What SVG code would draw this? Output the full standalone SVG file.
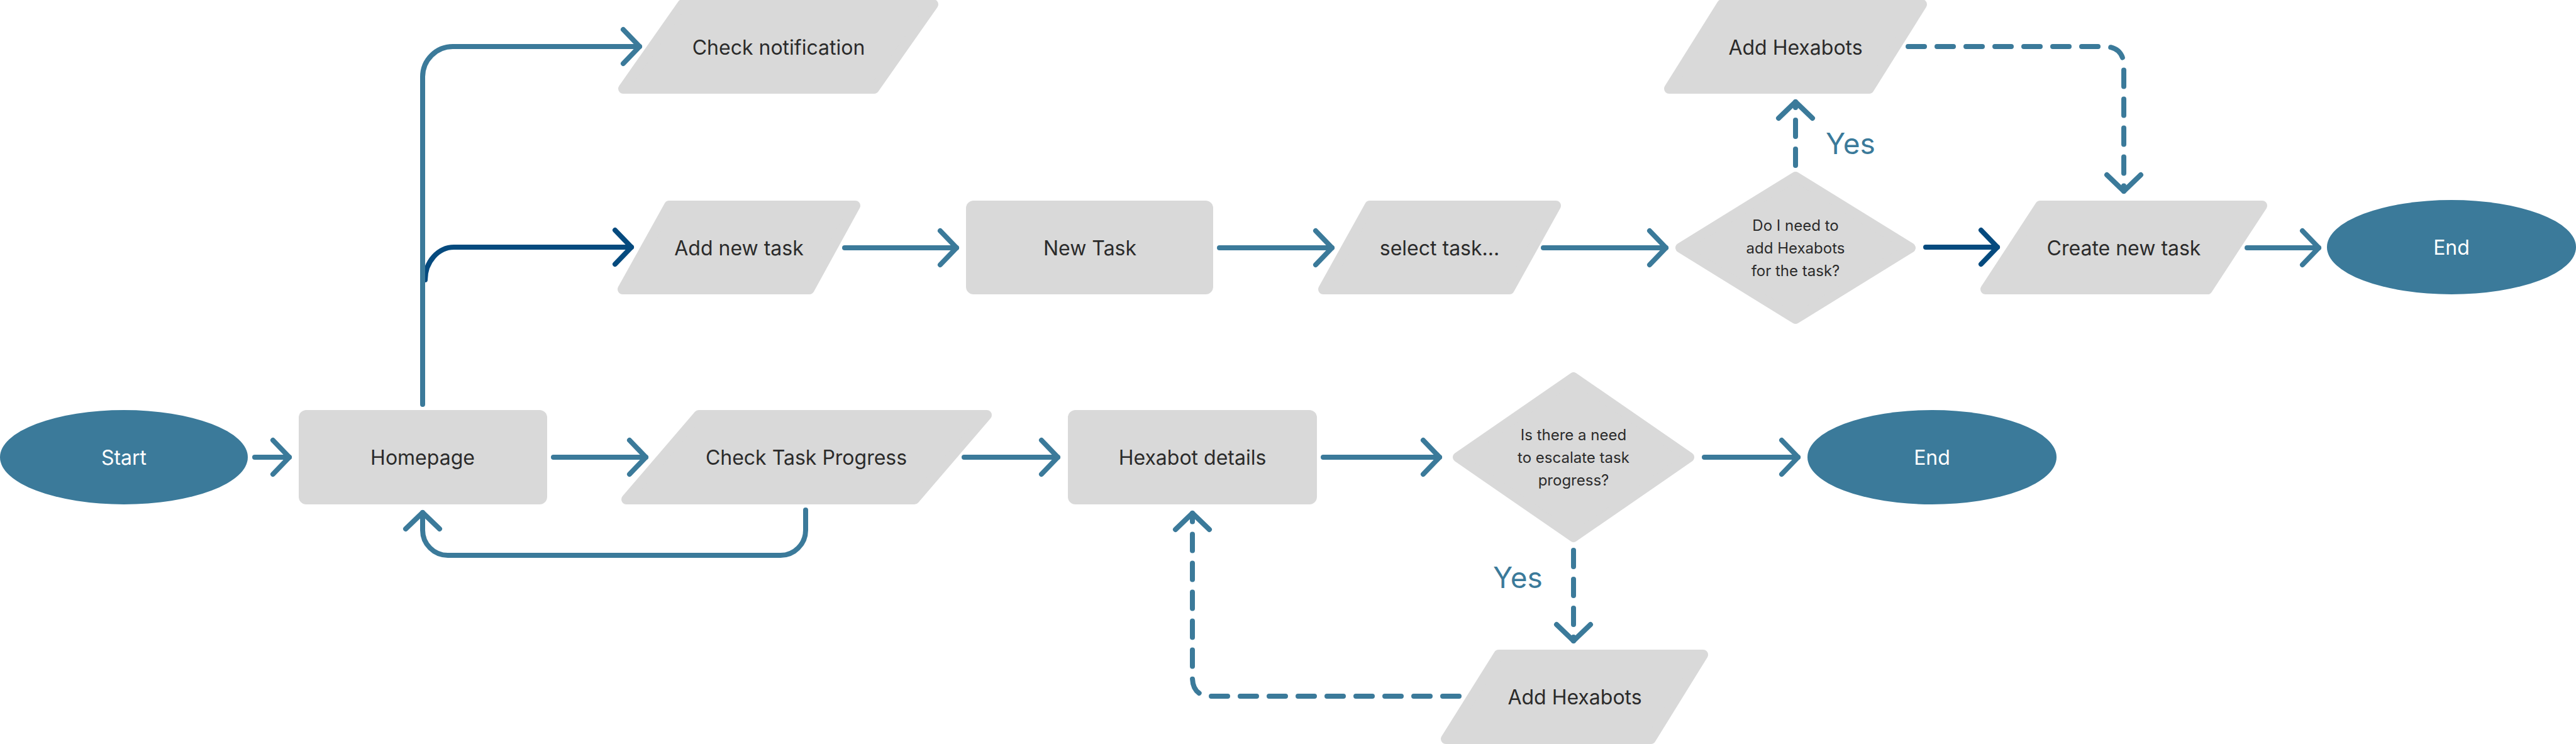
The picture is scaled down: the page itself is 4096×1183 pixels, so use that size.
<svg xmlns="http://www.w3.org/2000/svg" width="4096" height="1183" viewBox="0 0 4096 1183">
<style>
.bg{fill:#ffffff}
.r{fill:#d9d9d9}
.p{fill:#d9d9d9;stroke:#d9d9d9;stroke-width:16;stroke-linejoin:round}
.e{fill:#3b7a9a}
.t{font-family:Inter,"Liberation Sans",sans-serif;font-size:32px;fill:#2b2b2b;text-anchor:middle;dominant-baseline:central}
.tw{font-family:Inter,"Liberation Sans",sans-serif;font-size:32px;fill:#ffffff;text-anchor:middle;dominant-baseline:central}
.ts{font-family:Inter,"Liberation Sans",sans-serif;font-size:24px;fill:#2b2b2b;text-anchor:middle;dominant-baseline:central}
.yes{font-family:Inter,"Liberation Sans",sans-serif;font-size:46px;fill:#3b7a9a}
.c{fill:none;stroke:#3b7a9a;stroke-width:8;stroke-linecap:round;stroke-linejoin:round}
.d{fill:none;stroke:#054a7e;stroke-width:8;stroke-linecap:round;stroke-linejoin:round}
.dash{stroke-dasharray:26 20}
</style>
<defs>
<marker id="ab" markerUnits="userSpaceOnUse" orient="auto" overflow="visible" markerWidth="1" markerHeight="1" refX="0" refY="0">
<path d="M -26 -27 L 0 0 L -26 27" fill="none" stroke="#3b7a9a" stroke-width="8" stroke-linecap="round" stroke-linejoin="round"/>
</marker>
<marker id="ad" markerUnits="userSpaceOnUse" orient="auto" overflow="visible" markerWidth="1" markerHeight="1" refX="0" refY="0">
<path d="M -26 -27 L 0 0 L -26 27" fill="none" stroke="#054a7e" stroke-width="8" stroke-linecap="round" stroke-linejoin="round"/>
</marker>
</defs>
<rect class="bg" x="0" y="0" width="4096" height="1183"/>

<g id="connectors">
<path class="d" d="M 676 445 A 46 52 0 0 1 722 393 L 1004 393" marker-end="url(#ad)"/>
<path class="c" d="M 672 643 L 672 122 A 48 48 0 0 1 720 74 L 1017 74" marker-end="url(#ab)"/>
<path class="c" d="M 405 727 L 460 727" marker-end="url(#ab)"/>
<path class="c" d="M 880 727 L 1027 727" marker-end="url(#ab)"/>
<path class="c" d="M 1281 811 L 1281 843 A 40 40 0 0 1 1241 883 L 712 883 A 40 40 0 0 1 672 843 L 672 815" marker-end="url(#ab)"/>
<path class="c" d="M 1533 727 L 1682 727" marker-end="url(#ab)"/>
<path class="c" d="M 2104 727 L 2289 727" marker-end="url(#ab)"/>
<path class="c" d="M 2710 727 L 2859 727" marker-end="url(#ab)"/>
<path class="c" d="M 1343 394 L 1521 394" marker-end="url(#ab)"/>
<path class="c" d="M 1939 394 L 2118 394" marker-end="url(#ab)"/>
<path class="c" d="M 2454 394 L 2649 394" marker-end="url(#ab)"/>
<path class="d" d="M 3062 393 L 3176 393" marker-end="url(#ad)"/>
<path class="c" d="M 3573 394 L 3687 394" marker-end="url(#ab)"/>
<path class="c dash" d="M 2855 263 L 2855 162" marker-end="url(#ab)"/>
<path class="c dash" d="M 3034 74 L 3345 74 Q 3377 74 3377 106 L 3377 304" marker-end="url(#ab)"/>
<path class="c dash" d="M 2502 875 L 2502 1019" marker-end="url(#ab)"/>
<path class="c dash" d="M 2320 1107 L 1926 1107 Q 1896 1107 1896 1077 L 1896 816" marker-end="url(#ab)"/>
<text class="yes" x="2903" y="245">Yes</text>
<text class="yes" x="2374" y="935">Yes</text>
</g>

<g id="start">
<ellipse class="e" cx="197" cy="727" rx="197" ry="75"/>
<text class="tw" x="197" y="727">Start</text>
</g>
<g id="homepage">
<rect class="r" x="475" y="652" width="395" height="150" rx="12"/>
<text class="t" x="672" y="727">Homepage</text>
</g>
<g id="check-notification">
<polygon class="p" points="1085,7 1484,7 1390,141 991,141"/>
<text class="t" x="1238" y="75">Check notification</text>
</g>
<g id="add-new-task">
<polygon class="p" points="1064,327 1360,327 1287,460 990,460"/>
<text class="t" x="1175" y="394">Add new task</text>
</g>
<g id="new-task">
<rect class="r" x="1536" y="319" width="393" height="149" rx="12"/>
<text class="t" x="1733" y="394">New Task</text>
</g>
<g id="select-task">
<polygon class="p" points="2178,327 2474,327 2400,460 2104,460"/>
<text class="t" x="2289" y="394">select task...</text>
</g>
<g id="decision-hexabots">
<polygon class="p" points="2855,281 3038,394 2855,507 2672,394"/>
<text class="ts" x="2855" y="358">Do I need to</text>
<text class="ts" x="2855" y="394">add Hexabots</text>
<text class="ts" x="2855" y="430">for the task?</text>
</g>
<g id="add-hexabots-top">
<polygon class="p" points="2738,7 3056,7 2972,141 2654,141"/>
<text class="t" x="2855" y="75">Add Hexabots</text>
</g>
<g id="create-new-task">
<polygon class="p" points="3244,327 3597,327 3510,460 3157,460"/>
<text class="t" x="3377" y="394">Create new task</text>
</g>
<g id="end-top">
<ellipse class="e" cx="3898" cy="393" rx="198" ry="75"/>
<text class="tw" x="3898" y="393">End</text>
</g>
<g id="check-task-progress">
<polygon class="p" points="1111,660 1569,660 1454,794 996,794"/>
<text class="t" x="1282" y="727">Check Task Progress</text>
</g>
<g id="hexabot-details">
<rect class="r" x="1698" y="652" width="396" height="150" rx="12"/>
<text class="t" x="1896" y="727">Hexabot details</text>
</g>
<g id="decision-escalate">
<polygon class="p" points="2502,600 2686,727 2502,854 2318,727"/>
<text class="ts" x="2502" y="691">Is there a need</text>
<text class="ts" x="2502" y="727">to escalate task</text>
<text class="ts" x="2502" y="763">progress?</text>
</g>
<g id="end-bottom">
<ellipse class="e" cx="3072" cy="727" rx="198" ry="75"/>
<text class="tw" x="3072" y="727">End</text>
</g>
<g id="add-hexabots-bottom">
<polygon class="p" points="2383,1041 2708,1041 2625,1175 2299,1175"/>
<text class="t" x="2504" y="1108">Add Hexabots</text>
</g>
</svg>
